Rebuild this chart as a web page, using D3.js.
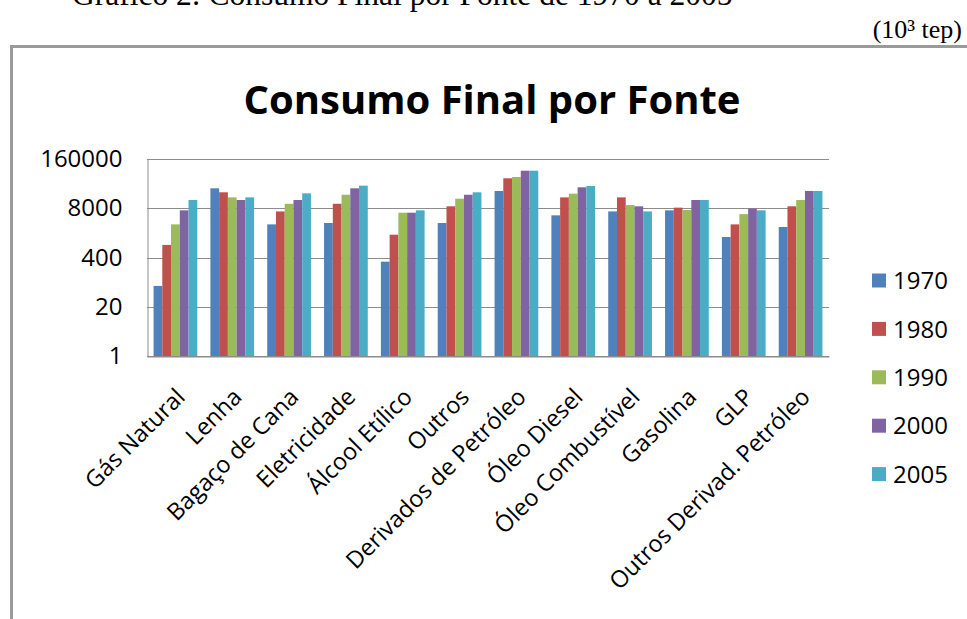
<!DOCTYPE html>
<html>
<head>
<meta charset="utf-8">
<script src="https://cdn.jsdelivr.net/npm/d3@7"></script>
<style>
  html, body { margin: 0; padding: 0; background: #fff; overflow: hidden; }
  svg { display: block; }
</style>
</head>
<body>
<svg id="chart" width="967" height="619"></svg>
<script>
// ---- data ----
const categories = ["Gás Natural","Lenha","Bagaço de Cana","Eletricidade","Álcool Etílico","Outros",
  "Derivados de Petróleo","Óleo Diesel","Óleo Combustível","Gasolina","GLP","Outros Derivad. Petróleo"];
const years = ["1970","1980","1990","2000","2005"];
const v1970 = [71, 26900, 3000, 3260, 310, 3260, 22900, 5200, 6600, 7050, 1390, 2560];
const v1980 = [860, 21100, 6600, 10500, 1600, 9000, 49500, 15500, 15500, 8300, 3000, 9000];
const v1990 = [3000, 15500, 10500, 18200, 6100, 14300, 53600, 19400, 9700, 7200, 5600, 13200];
const v2000 = [7050, 13200, 13200, 26900, 6100, 18200, 78500, 28600, 9000, 13200, 7800, 22900];
const v2005 = [13200, 15500, 19800, 31600, 7050, 21100, 78500, 30900, 6600, 13200, 7050, 22900];
const yTicks = [1, 20, 400, 8000, 160000];
const colors = ["#4F81BD","#C0504D","#9BBB59","#8064A2","#4BACC6"];

(function () {
const series = [v1970, v1980, v1990, v2000, v2005];
const rows = categories.map((c, i) => ({cat: c, vals: years.map((yr, j) => ({year: yr, v: series[j][i]}))}));

const svg = d3.select("#chart");
const pLeft = 147, pRight = 829, pTop = 159, pBottom = 356;
const font = "'Open Sans', sans-serif";

// outer frame
svg.append("path")
  .attr("d", "M11.5,625 L11.5,46.5 L975,46.5")
  .attr("fill", "none").attr("stroke", "#9a9a9a").attr("stroke-width", 3);

// caption (cut off at top, as in the source)
svg.append("text").attr("x", 72).attr("y", 5)
  .attr("font-family", "'Liberation Serif', 'Times New Roman', serif").attr("font-size", 31.5)
  .attr("fill", "#000").text("Gráfico 2: Consumo Final por Fonte de 1970 a 2005");
svg.append("text").attr("x", 962).attr("y", 38).attr("text-anchor", "end")
  .attr("font-family", "'Liberation Serif', 'Times New Roman', serif").attr("font-size", 26)
  .attr("fill", "#000").text("(10³ tep)");

// title
svg.append("text").attr("x", 492).attr("y", 114).attr("text-anchor", "middle")
  .attr("font-family", font).attr("font-weight", "bold").attr("font-size", 40)
  .attr("fill", "#000").text("Consumo Final por Fonte");

// scales
const x0 = d3.scaleBand().domain(categories).range([pLeft, pRight])
  .paddingInner(1.5 / 6.5).paddingOuter(0.75 / 6.5);
const x1 = d3.scaleBand().domain(years).range([0, x0.bandwidth()]);
const y = d3.scaleLog().base(20).domain([1, 160000]).range([pBottom, pTop]);

// gridlines
svg.append("g").selectAll("line").data(yTicks).join("line")
  .attr("x1", pLeft).attr("x2", pRight)
  .attr("y1", d => Math.round(y(d)) + 0.5).attr("y2", d => Math.round(y(d)) + 0.5)
  .attr("stroke", "#8c8c8c").attr("stroke-width", 1);

// y axis
const yAxis = d3.axisLeft(y).tickValues(yTicks).tickFormat(d3.format("d")).tickSize(0).tickPadding(25);
const gy = svg.append("g").attr("transform", `translate(${pLeft + 0.5},0)`).call(yAxis);
gy.select(".domain").attr("stroke", "#8c8c8c");
gy.selectAll("text").attr("font-family", font).attr("font-size", 24).attr("fill", "#000");

// bars
svg.append("g").selectAll("g").data(rows).join("g")
  .attr("transform", d => `translate(${x0(d.cat)},0)`)
  .selectAll("rect").data(d => d.vals).join("rect")
  .attr("x", d => x1(d.year))
  .attr("width", x1.bandwidth())
  .attr("y", d => y(d.v))
  .attr("height", d => pBottom - y(d.v))
  .attr("fill", (d, j) => colors[j]);

// x axis
const xAxis = d3.axisBottom(x0).tickSize(0).tickFormat(d => d);
const gx = svg.append("g").attr("transform", `translate(0,${pBottom + 0.5})`).call(xAxis);
gx.select(".domain").attr("stroke", "#8c8c8c");
gx.selectAll(".tick text")
  .attr("font-family", font).attr("font-size", 23.5).attr("fill", "#000")
  .attr("text-anchor", "end").attr("y", 0).attr("dy", 0)
  .attr("transform", "translate(11,42) rotate(-45)");

// legend
const leg = svg.append("g").selectAll("g").data(years).join("g")
  .attr("transform", (d, i) => `translate(872,${280.5 + i * 48.4})`);
leg.append("rect").attr("x", 0).attr("y", -7).attr("width", 14).attr("height", 14)
  .attr("fill", (d, i) => colors[i]);
leg.append("text").attr("x", 21).attr("y", 0).attr("dy", "0.36em")
  .attr("font-family", font).attr("font-size", 24).attr("fill", "#000").text(d => d);
})();
</script>
</body>
</html>
